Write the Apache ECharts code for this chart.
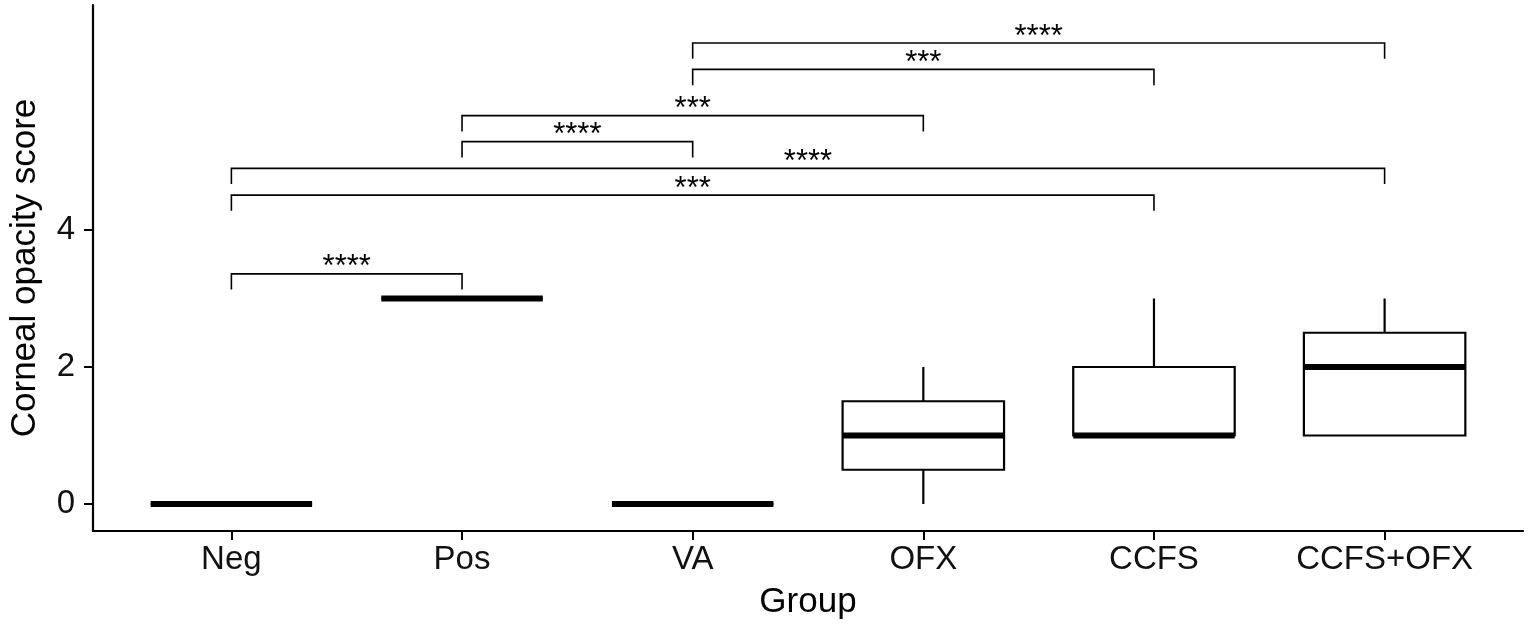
<!DOCTYPE html>
<html>
<head>
<meta charset="utf-8">
<script src="https://cdn.jsdelivr.net/npm/echarts@6/dist/echarts.min.js"></script>
<style>
  html, body { margin: 0; padding: 0; background: #fff; }
  #chart { width: 1532px; height: 627px; }
</style>
</head>
<body>
<div id="chart"></div>
<script>
// groups and box statistics
const groups = ['Neg', 'Pos', 'VA', 'OFX', 'CCFS', 'CCFS+OFX'];
const whiskerLow = [0, 3, 0, 0, 1, 1];
const q1 = [0, 3, 0, 0.5, 1, 1];
const median = [0, 3, 0, 1, 1, 2];
const q3 = [0, 3, 0, 1.5, 2, 2.5];
const whiskerHigh = [0, 3, 0, 2, 3, 3];

// significance brackets: from group, to group (1-based), height, label
const bracketFrom = [1, 1, 1, 2, 2, 3, 3];
const bracketTo = [2, 5, 6, 3, 4, 5, 6];
const bracketHeight = [3.36, 4.51, 4.90, 5.29, 5.67, 6.345, 6.73];
const bracketLabel = ['****', '***', '****', '****', '***', '***', '****'];

const yTicks = [0, 2, 4];

const FONT = '"Liberation Sans", Arial, Helvetica, sans-serif';
const boxWidth = 0.7;
const tipLength = 0.23;

const boxData = groups.map((g, i) => [i + 1, whiskerLow[i], q1[i], median[i], q3[i], whiskerHigh[i]]);
const bracketData = bracketFrom.map((f, i) => [f, bracketTo[i], bracketHeight[i], bracketLabel[i]]);

function renderBox(params, api) {
    const x = api.value(0);
    const lo = api.coord([x, api.value(1)]);
    const b1 = api.coord([x, api.value(2)]);
    const md = api.coord([x, api.value(3)]);
    const b3 = api.coord([x, api.value(4)]);
    const hi = api.coord([x, api.value(5)]);
    const half = api.size([boxWidth, 0])[0] / 2;
    const line = { stroke: '#000', lineWidth: 2.2, fill: null };
    return {
        type: 'group',
        children: [
            { type: 'line', shape: { x1: hi[0], y1: hi[1], x2: b3[0], y2: b3[1] }, style: line },
            { type: 'line', shape: { x1: lo[0], y1: lo[1], x2: b1[0], y2: b1[1] }, style: line },
            { type: 'rect', shape: { x: b3[0] - half, y: b3[1], width: half * 2, height: b1[1] - b3[1] },
              style: { stroke: '#000', lineWidth: 2.2, fill: '#fff' } },
            { type: 'line', shape: { x1: md[0] - half, y1: md[1], x2: md[0] + half, y2: md[1] },
              style: { stroke: '#000', lineWidth: 6 } }
        ]
    };
}

function renderBracket(params, api) {
    const x1 = api.value(0), x2 = api.value(1), y = api.value(2);
    const label = bracketLabel[params.dataIndex];
    const a = api.coord([x1, y - tipLength]);
    const b = api.coord([x1, y]);
    const c = api.coord([x2, y]);
    const d = api.coord([x2, y - tipLength]);
    return {
        type: 'group',
        children: [
            { type: 'polyline', shape: { points: [a, b, c, d] },
              style: { stroke: '#000', lineWidth: 1.6, fill: null } },
            { type: 'text', x: (b[0] + c[0]) / 2, y: b[1] - 6,
              style: { text: label, fontSize: 31, fontFamily: FONT, fill: '#000',
                       align: 'center', verticalAlign: 'middle' } }
        ]
    };
}

const chart = echarts.init(document.getElementById('chart'));
chart.setOption({
    animation: false,
    backgroundColor: '#fff',
    grid: { left: 93, right: 9, top: 5, bottom: 96 },
    xAxis: {
        type: 'value',
        min: 0.4,
        max: 6.6,
        name: 'Group',
        nameLocation: 'middle',
        nameGap: 54,
        nameTextStyle: { fontSize: 35, fontFamily: FONT, color: '#000' },
        splitLine: { show: false },
        axisLine: { show: true, onZero: false, lineStyle: { color: '#000', width: 2.2 } },
        axisTick: { show: true, length: 9, lineStyle: { color: '#000', width: 2 },
                    customValues: groups.map((g, i) => i + 1) },
        axisLabel: { fontSize: 33, fontFamily: FONT, color: '#111', margin: 12,
                     customValues: groups.map((g, i) => i + 1),
                     formatter: v => groups[Math.round(v) - 1] || '' }
    },
    yAxis: {
        type: 'value',
        min: -0.394,
        max: 7.285,
        name: 'Corneal opacity score',
        nameLocation: 'middle',
        nameGap: 50,
        nameTextStyle: { fontSize: 35, fontFamily: FONT, color: '#000' },
        splitLine: { show: false },
        axisLine: { show: true, onZero: false, lineStyle: { color: '#000', width: 2.2 } },
        axisTick: { show: true, length: 9, lineStyle: { color: '#000', width: 2 },
                    customValues: yTicks },
        axisLabel: { fontSize: 33, fontFamily: FONT, color: '#111', margin: 18,
                     customValues: yTicks }
    },
    series: [
        {
            type: 'custom',
            renderItem: renderBox,
            encode: { x: 0, y: [1, 2, 3, 4, 5] },
            data: boxData
        },
        {
            type: 'custom',
            renderItem: renderBracket,
            encode: { x: [0, 1], y: 2 },
            data: bracketData
        }
    ]
});
</script>
</body>
</html>
